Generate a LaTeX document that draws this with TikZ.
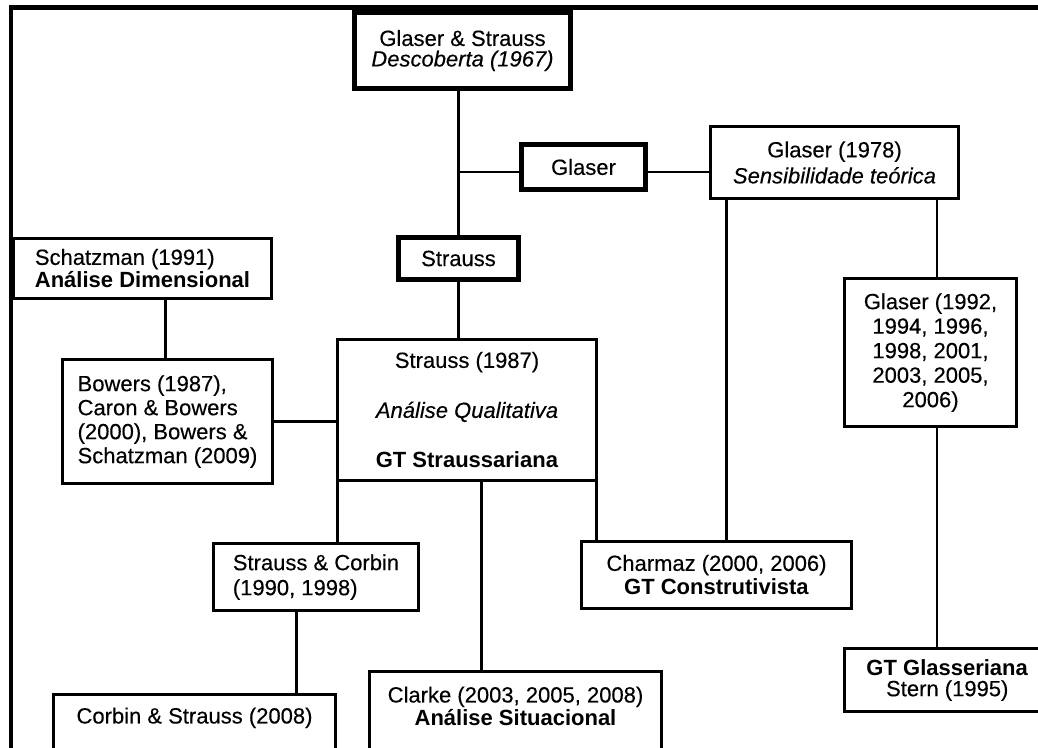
\documentclass[tikz,border=0pt]{standalone}
\usepackage{fontspec}
\setmainfont{Liberation Sans}[UprightFeatures={FakeBold=0.3},ItalicFeatures={FakeBold=0.3}]
\newcommand{\boxnode}[7]{\node[#2, minimum width={#5-#3}, minimum height={#6-#4}] (#1) at ({(#3+#5)/2},{(#4+#6)/2}) {#7};}
\newcommand{\fs}[1]{\fontsize{22}{#1}\selectfont}
\begin{document}
\begin{tikzpicture}[x=1pt,y=-1pt,
  box/.style={draw, line width=2.8pt, rectangle, inner sep=0pt, align=center, font=\fs{24}},
  thickbox/.style={box, line width=5pt},
  conn/.style={line width=2.8pt}]
\useasboundingbox (0,0) rectangle (1038,747);
\clip (0,0) rectangle (1038,747);
% frame
\draw[line width=4.5pt] (10.8,7.5) rectangle (1100,800);
% boxes
\boxnode{gs}{thickbox,font=\fs{20.5}}{354.5}{12.5}{570.5}{88.5}{Glaser \& Strauss\\\textit{Descoberta (1967)}}
\boxnode{gl}{thickbox}{521.5}{144.5}{645.5}{189.5}{Glaser}
\boxnode{g78}{box,font=\fs{26}}{710.5}{126.5}{958.5}{198.5}{Glaser (1978)\\\textit{Sensibilidade teórica}}
\boxnode{st}{thickbox}{398.5}{237.5}{518.5}{279.5}{Strauss}
\boxnode{sch}{box,font=\fs{23},align=left}{13.5}{238.5}{271.5}{298.5}{Schatzman (1991)\\\textbf{Análise Dimensional}}
\boxnode{bw}{box,align=left}{62.5}{359.5}{272.5}{483.5}{Bowers (1987),\\Caron \& Bowers\\(2000), Bowers \&\\Schatzman (2009)}
\boxnode{s87}{box}{337.5}{339.5}{596.5}{480.5}{Strauss (1987)\\[26pt]\textit{Análise Qualitativa}\\[26pt]\textbf{GT Straussariana}}
\boxnode{g92}{box,font=\fs{24.5}}{844.5}{278.5}{1016.5}{426.5}{Glaser (1992,\\1994, 1996,\\1998, 2001,\\2003, 2005,\\2006)}
\boxnode{sc}{box,font=\fs{25},align=left}{213.5}{543.5}{418.5}{610.5}{Strauss \& Corbin\\(1990, 1998)}
\boxnode{ch}{box}{581.5}{541.5}{851.5}{608.5}{Charmaz (2000, 2006)\\\textbf{GT Construtivista}}
\boxnode{cs}{box}{53.5}{694.5}{335.5}{770}{Corbin \& Strauss (2008)\rule[-33.5pt]{0pt}{33.5pt}}
\boxnode{cl}{box,font=\fs{23}}{369.5}{671.5}{661.5}{770}{Clarke (2003, 2005, 2008)\\\textbf{Análise Situacional}\rule[-29.5pt]{0pt}{29.5pt}}
\boxnode{gt}{box,font=\fs{21}}{844.5}{648.5}{1050}{711.5}{\textbf{GT Glasseriana}\\Stern (1995)}
% connectors
\draw[conn] (st.north) -- (st.north |- gs.south);
\draw[conn] ([yshift=-5pt]gl.west) -- ([yshift=-5pt]gl.west -| st.north);
\draw[conn] ([yshift=-5pt]gl.east) -- ([yshift=-5pt]gl.east -| g78.west);
\draw[conn] (st.south) -- (st.south |- s87.north);
\draw[conn] ([xshift=153pt]sch.south west) coordinate (a1) -- (a1 |- bw.north);
\draw[conn] (bw.east) -- (bw.east -| s87.west);
\draw[conn] ([xshift=17pt]g78.south west) coordinate (a2) -- (a2 |- ch.north);
\draw[conn] ([xshift=-23pt]g78.south east) coordinate (a3) -- (a3 |- g92.north);
\draw[conn] (a3 |- g92.south) -- (a3 |- gt.north);
\draw[conn] ([xshift=1.4pt]s87.south west) coordinate (a4) -- (a4 |- sc.north);
\draw[conn] ([xshift=145pt]s87.south west) coordinate (a5) -- (a5 |- cl.north);
\draw[conn] ([xshift=-1.4pt]s87.south east) coordinate (a6) -- (a6 |- ch.north);
\draw[conn] ([xshift=84pt]sc.south west) coordinate (a7) -- (a7 |- cs.north);
\end{tikzpicture}
\end{document}
